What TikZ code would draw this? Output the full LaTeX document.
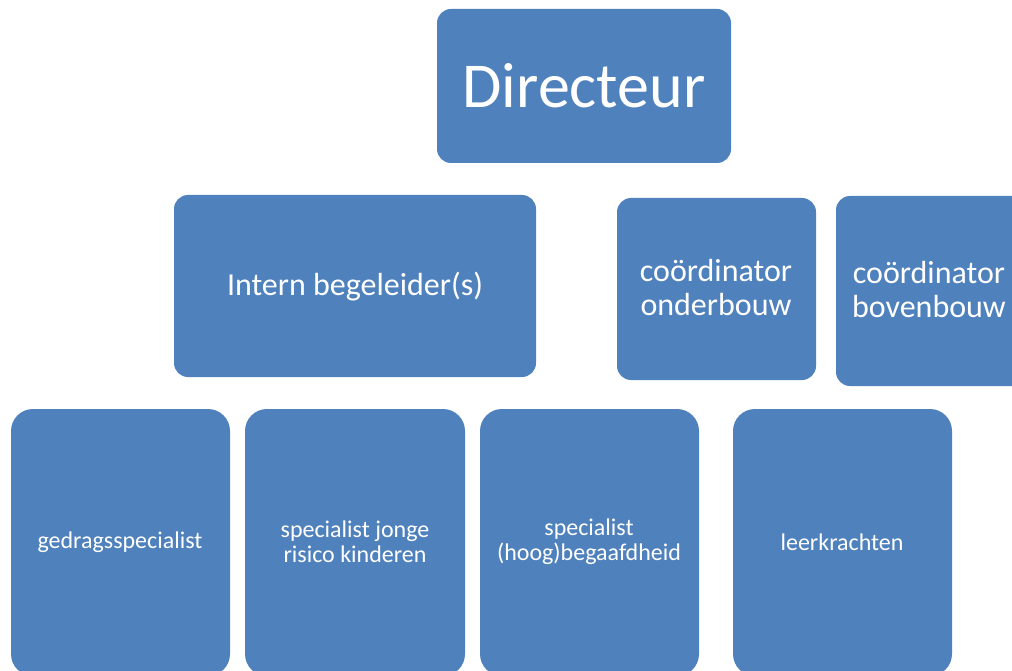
\documentclass[tikz,border=0pt]{standalone}
\usepackage{fontspec}
\setmainfont{Carlito}
\definecolor{boxblue}{HTML}{4F81BD}
\begin{document}
\begin{tikzpicture}[x=1pt,y=-1pt,
  orgbox/.style={fill=boxblue, draw=none, rounded corners=#1},
  orgbox/.default=14pt,
  lbl/.style={text=white, align=center, inner sep=0pt},
  bigf/.style={font=\fontsize{64}{70}\selectfont},
  midf/.style={font=\fontsize{32}{34}\selectfont},
  smallf/.style={font=\fontsize{24}{25}\selectfont},
]
\useasboundingbox (0,0) rectangle (1012,671);
\clip (0,0) rectangle (1012,671);
% boxes
\path[orgbox] (437,9) rectangle (731,163);
\path[orgbox] (174,195) rectangle (536,377);
\path[orgbox] (617,198) rectangle (816,380);
\path[orgbox] (836,196) rectangle (1030,386);
\path[orgbox=22pt] (11,409) rectangle (230,676);
\path[orgbox=22pt] (245,409) rectangle (465,676);
\path[orgbox=22pt] (480,409) rectangle (699,676);
\path[orgbox=22pt] (733,409) rectangle (952,676);
% labels
\node[lbl, bigf] (dir) at (584,86) {Directeur};
\node[lbl, midf] (ib) at (355,287) {Intern begeleider(s)};
\node[lbl, midf] (co) at (716,288) {coördinator\\onderbouw};
\node[lbl, midf] (cb) at (929,290) {coördinator\\bovenbouw};
\node[lbl, smallf] (gs) at (120,542) {gedragsspecialist};
\node[lbl, smallf] (sj) at (355,542) {specialist jonge\\risico kinderen};
\node[lbl, smallf] (sh) at (589,542) {specialist\\(hoog)begaafdheid};
\node[lbl, smallf] (lk) at (842,542) {leerkrachten};
\end{tikzpicture}
\end{document}
